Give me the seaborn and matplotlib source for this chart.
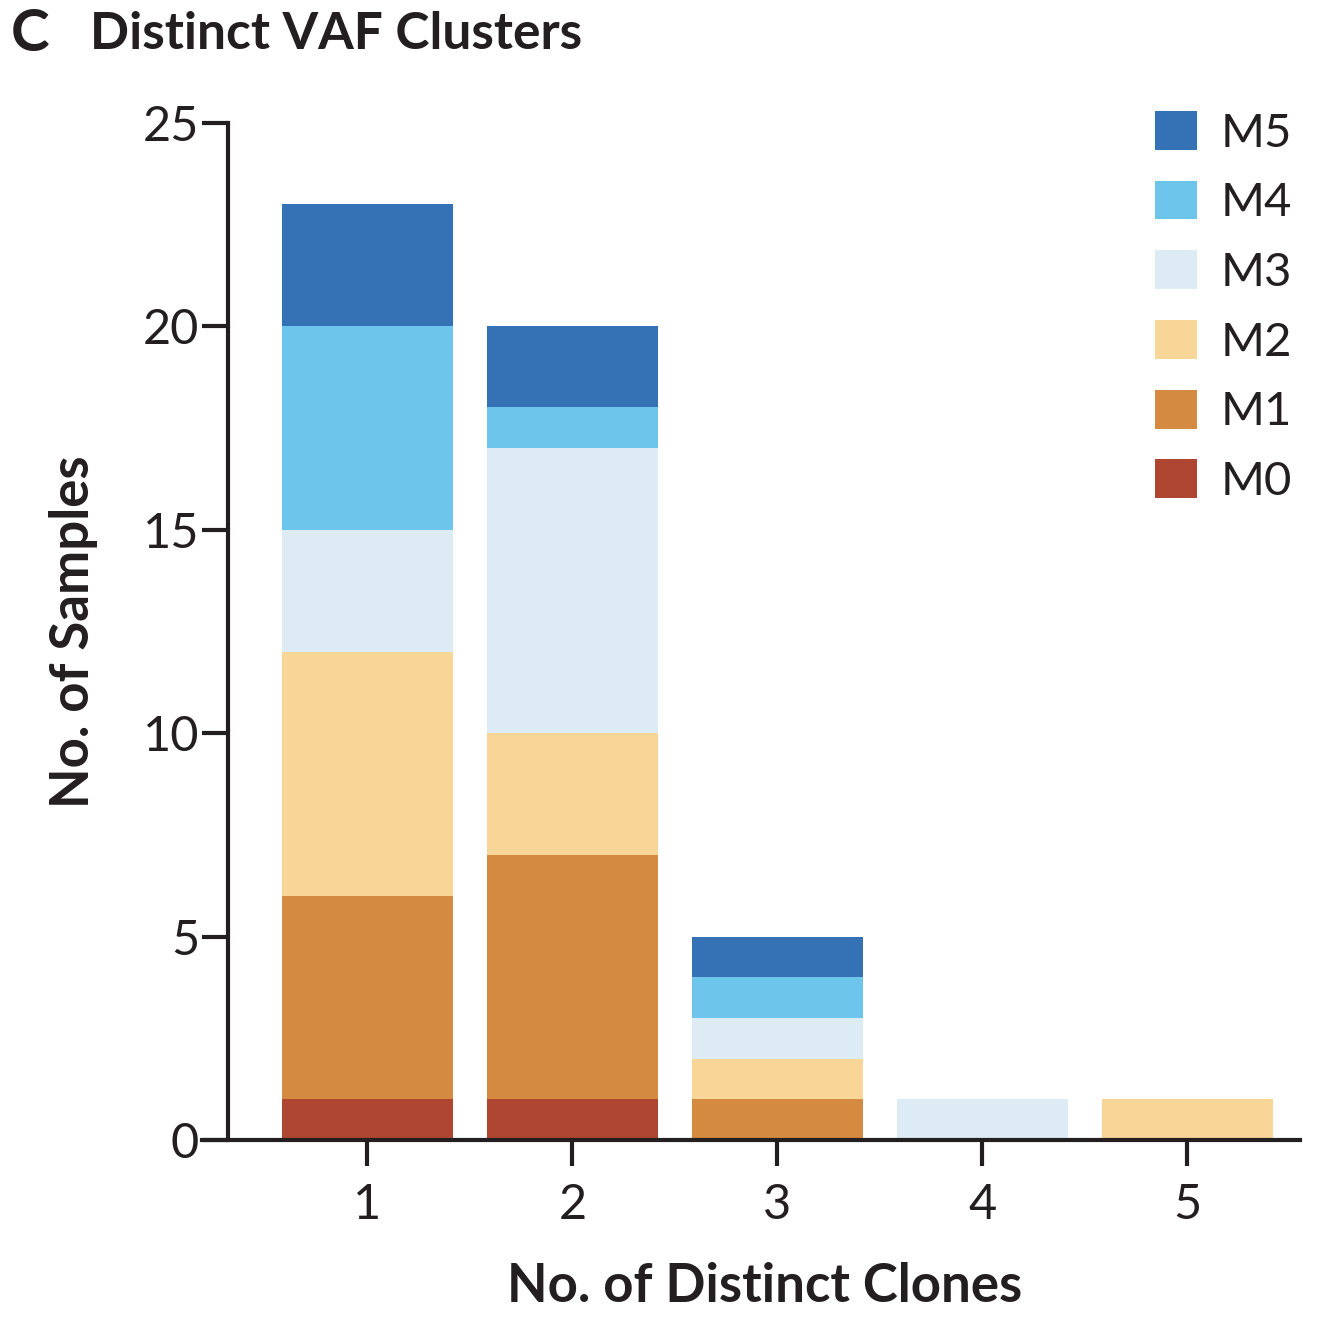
import numpy as np
import pandas as pd
import matplotlib
matplotlib.use("Agg")
import matplotlib.pyplot as plt
import seaborn as sns
from matplotlib.patches import Patch

# data
clones = ["1", "2", "3", "4", "5"]
layers = ["M0", "M1", "M2", "M3", "M4", "M5"]
m0 = [1, 1, 0, 0, 0]
m1 = [5, 6, 1, 0, 0]
m2 = [6, 3, 1, 0, 1]
m3 = [3, 7, 1, 1, 0]
m4 = [5, 1, 1, 0, 0]
m5 = [3, 2, 1, 0, 0]
colors = ["#AE4632", "#D48A40", "#F8D697", "#DCEBF4", "#6DC5EB", "#3472B5"]

sns.set_style("white")
plt.rcParams["font.family"] = ["Lato", "DejaVu Sans"]
ink = "#231F20"

fig = plt.figure(figsize=(13.28, 13.32), dpi=100)
ax = fig.add_axes([0.172, 0.144, 0.807, 0.764])

bottom = np.zeros(len(clones))
for name, vals, col in zip(layers, [m0, m1, m2, m3, m4, m5], colors):
    df = pd.DataFrame({"clones": clones, "n": vals})
    sns.barplot(data=df, x="clones", y="n", color=col, bottom=bottom,
                width=0.834, saturation=1, ax=ax, linewidth=0)
    bottom = bottom + np.array(vals)

ax.set_ylim(0, 25)
ax.set_xlim(-0.678, 4.55)
ax.set_yticks([0, 5, 10, 15, 20, 25])

for s in ["top", "right"]:
    ax.spines[s].set_visible(False)
for s in ["left", "bottom"]:
    ax.spines[s].set_linewidth(3)
    ax.spines[s].set_color(ink)
ax.spines["bottom"].set_bounds(-0.805, 4.55)

ax.tick_params(axis="both", direction="out", length=19, width=3, color=ink,
               labelsize=35, labelcolor=ink, bottom=True, left=True)
ax.tick_params(axis="x", pad=12)
ax.tick_params(axis="y", pad=2)

ax.set_xlabel("No. of Distinct Clones", fontsize=38, fontweight="bold",
              color=ink, labelpad=25)
ax.set_ylabel("No. of Samples", fontsize=38, fontweight="bold",
              color=ink, labelpad=32)

fig.text(0.008, 0.974, "C", fontsize=42, fontweight="bold", color=ink,
         va="center", ha="left")
fig.text(0.068, 0.974, "Distinct VAF Clusters", fontsize=37,
         fontweight="bold", color=ink, va="center", ha="left")

handles = [Patch(facecolor=c, edgecolor="none", label=l)
           for l, c in zip(layers[::-1], colors[::-1])]
leg = ax.legend(handles=handles, loc="upper left", frameon=False,
                fontsize=34, handlelength=0.89, handleheight=0.89,
                handletextpad=0.5, labelspacing=0.55,
                bbox_to_anchor=(0.834, 1.044), labelcolor=ink,
                borderpad=0.2)

fig.savefig("out.png", dpi=100)
